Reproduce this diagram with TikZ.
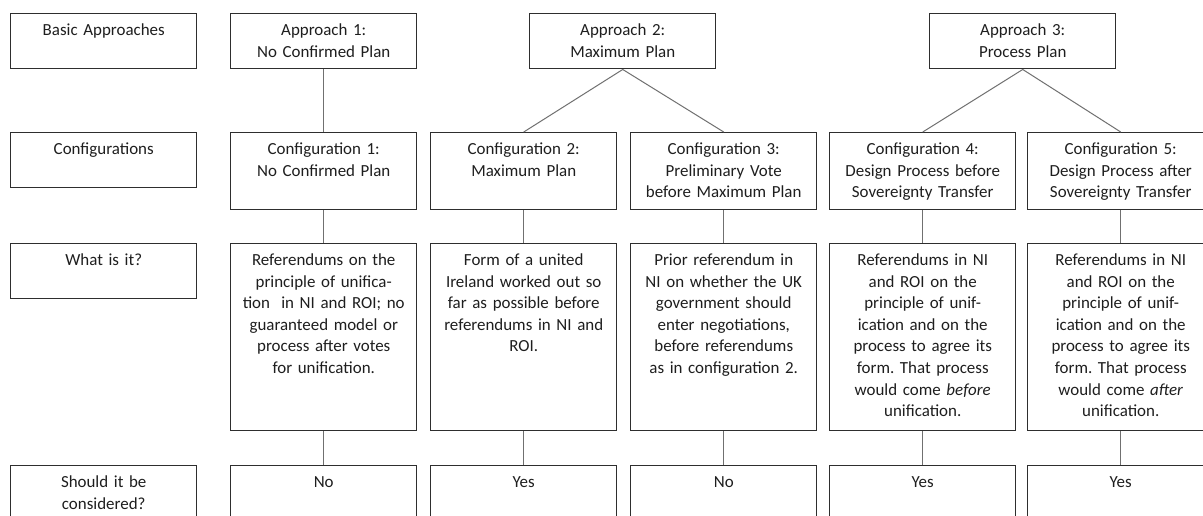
\documentclass[tikz,border=0pt]{standalone}
\usepackage{fontspec}
\setmainfont{Carlito}
\frenchspacing
\definecolor{boxc}{HTML}{2E2E2E}
\definecolor{linkc}{HTML}{707070}
\definecolor{txtc}{HTML}{1E1E1E}
\tikzset{
  box/.style={draw=boxc, line width=1.1pt, rectangle, inner sep=0pt, anchor=north west, fill=white},
  lbl/.style={anchor=north, inner sep=0pt, align=center, font=\fontsize{12.7}{16.2}\selectfont, text=txtc},
  link/.style={draw=linkc, line width=0.75pt}
}
\newcommand\mybox[6]{%
  \node[box, minimum width={\dimexpr0.75pt*#4\relax}, minimum height={\dimexpr0.75pt*#5\relax}] (#1) at (#2,#3) {};
  \node[lbl, text width={\dimexpr0.75pt*#4\relax}] (#1t) at ([yshift=-5.4pt]#1.north) {\strut #6};
}
\begin{document}
\begin{tikzpicture}[x=0.75pt, y=-0.75pt]
\useasboundingbox[fill=white] (0,0) rectangle (1203,515);
\clip (0,0) rectangle (1203,515);
% label column
\mybox{la}{10}{13}{186}{55}{Basic Approaches}
\mybox{lc}{10}{132}{186}{55}{Configurations}
\mybox{lw}{10}{243}{186}{55}{What is it?}
\mybox{ls}{10}{465}{186}{55}{Should it be\\considered?}
% approaches
\mybox{a1}{230}{13}{186}{55}{Approach 1:\\No Confirmed Plan}
\mybox{a2}{529}{13}{186}{55}{Approach 2:\\Maximum Plan}
\mybox{a3}{929}{13}{186}{55}{Approach 3:\\Process Plan}
% configurations
\mybox{c1}{230}{132}{186}{77}{Configuration 1:\\No Confirmed Plan}
\mybox{c2}{430}{132}{186}{77}{Configuration 2:\\Maximum Plan}
\mybox{c3}{630}{132}{186}{77}{Configuration 3:\\Preliminary Vote\\before Maximum Plan}
\mybox{c4}{829}{132}{186}{77}{Configuration 4:\\Design Process before\\Sovereignty Transfer}
\mybox{c5}{1027}{132}{186}{77}{Configuration 5:\\Design Process after\\Sovereignty Transfer}
% what is it
\mybox{w1}{230}{243}{186}{187}{Referendums on the\\principle of unifica-\\tion~ in NI and ROI; no\\guaranteed model or\\process after votes\\for unification.}
\mybox{w2}{430}{243}{186}{187}{Form of a united\\Ireland worked out so\\far as possible before\\referendums in NI and\\ROI.}
\mybox{w3}{630}{243}{186}{187}{Prior referendum in\\NI on whether the UK\\government should\\enter negotiations,\\before referendums\\as in configuration 2.}
\mybox{w4}{829}{243}{186}{187}{Referendums in NI\\and ROI on the\\principle of unif-\\ication and on the\\process to agree its\\form. That process\\would come \textit{before}\\unification.}
\mybox{w5}{1027}{243}{186}{187}{Referendums in NI\\and ROI on the\\principle of unif-\\ication and on the\\process to agree its\\form. That process\\would come \textit{after}\\unification.}
% should it be considered
\mybox{s1}{230}{465}{186}{80}{No}
\mybox{s2}{430}{465}{186}{80}{Yes}
\mybox{s3}{630}{465}{186}{80}{No}
\mybox{s4}{829}{465}{186}{80}{Yes}
\mybox{s5}{1027}{465}{186}{80}{Yes}
% connectors
\draw[link] (a1.south) -- (c1.north);
\draw[link] (a2.south) -- (c2.north);
\draw[link] (a2.south) -- (c3.north);
\draw[link] (a3.south) -- (c4.north);
\draw[link] (a3.south) -- (c5.north);
\foreach \i in {1,...,5}{
  \draw[link] (c\i.south) -- (w\i.north);
  \draw[link] (w\i.south) -- (s\i.north);
}
\end{tikzpicture}
\end{document}
